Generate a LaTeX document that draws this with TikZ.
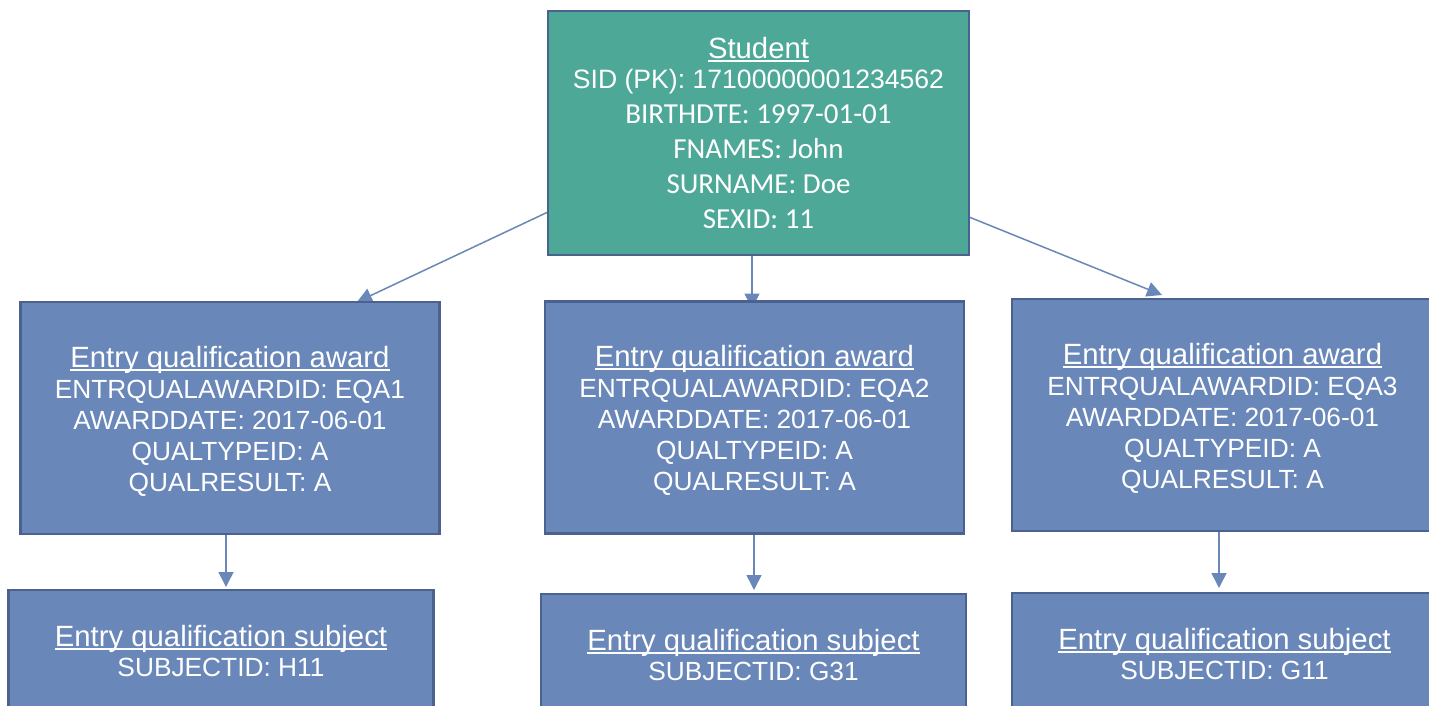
\documentclass[tikz,border=0pt]{standalone}
\usepackage{fontspec}
\setmainfont{Liberation Sans}
\newfontfamily\calib{Carlito}
\usetikzlibrary{arrows.meta}
\pgfdeclarelayer{bg}
\pgfsetlayers{bg,main}
\definecolor{stufill}{RGB}{78,168,152}
\definecolor{boxfill}{RGB}{106,135,185}
\definecolor{boxline}{RGB}{75,97,142}
\definecolor{arrowc}{RGB}{106,135,185}
\newcommand\myul[1]{\leavevmode\setbox0\hbox{#1}\rlap{\rule[-3.5pt]{\wd0}{2pt}}\box0}
\newcommand\ttl{\fontsize{29.3}{31}\selectfont}
\newcommand\atitle{\rule{0pt}{27.6pt}{\ttl\myul{Entry qualification award}}}
\tikzset{
  entity/.style={draw=boxline, line width=2.5pt, fill=boxfill, text=white,
    align=center, inner sep=0pt, outer sep=0pt,
    font=\fontsize{26.3}{31}\selectfont},
  award/.style={entity, minimum width=419pt, minimum height=232pt},
  subj/.style={entity, minimum width=425pt, minimum height=122pt, font=\fontsize{26.3}{30}\selectfont},
  conn/.style={draw=arrowc, line width=1.5pt, -{Triangle[width=15pt,length=15pt]}},
}
\begin{document}
\begin{tikzpicture}[x=1pt,y=-1pt]
\useasboundingbox (0,0) rectangle (1429,706);
\node[entity, fill=stufill, minimum width=421pt, minimum height=244pt,
  font=\calib\fontsize{29}{35}\selectfont] (student) at (758.5,133)
  {{\rmfamily\ttl\myul{Student}}\\[-5pt]
   {\rmfamily\fontsize{26.6}{31}\selectfont SID (PK): 17100000001234562}\\
   BIRTHDTE: 1997-01-01\\
   FNAMES: John\\
   SURNAME: Doe\\
   SEXID: 11};
\node[award] (award1) at (230,418)
  {\atitle\\ENTRQUALAWARDID: EQA1\\AWARDDATE: 2017-06-01\\QUALTYPEID: A\\QUALRESULT: A};
\node[award] (award2) at (754.5,417.5)
  {\atitle\\ENTRQUALAWARDID: EQA2\\AWARDDATE: 2017-06-01\\QUALTYPEID: A\\QUALRESULT: A};
\node[award, minimum width=421pt] (award3) at (1222.5,415)
  {\atitle\\ENTRQUALAWARDID: EQA3\\AWARDDATE: 2017-06-01\\QUALTYPEID: A\\QUALRESULT: A};
\node[subj] (subj1) at (221,651)
  {{\ttl\myul{Entry qualification subject}}\\SUBJECTID: H11};
\node[subj] (subj2) at (753.5,655)
  {{\ttl\myul{Entry qualification subject}}\\SUBJECTID: G31};
\node[subj] (subj3) at (1224.5,654)
  {{\ttl\myul{Entry qualification subject}}\\SUBJECTID: G11};
\begin{pgfonlayer}{bg}
\draw[conn] ([yshift=-79pt]student.west) -- ([xshift=127pt]award1.north);
\draw[conn] ([xshift=-6.5pt]student.south) -- ([xshift=-2.5pt,yshift=-7pt]award2.north);
\draw[conn] ([yshift=-84pt]student.east) -- ([xshift=-60.5pt,yshift=4pt]award3.north);
\draw[conn] ([xshift=-4pt]award1.south) -- ([xshift=5pt,yshift=3pt]subj1.north);
\draw[conn] ([xshift=-0.5pt]award2.south) -- ([xshift=0.5pt,yshift=4pt]subj2.north);
\draw[conn] ([xshift=-3.5pt]award3.south) -- ([xshift=-5.5pt,yshift=5pt]subj3.north);
\end{pgfonlayer}
\end{tikzpicture}
\end{document}
